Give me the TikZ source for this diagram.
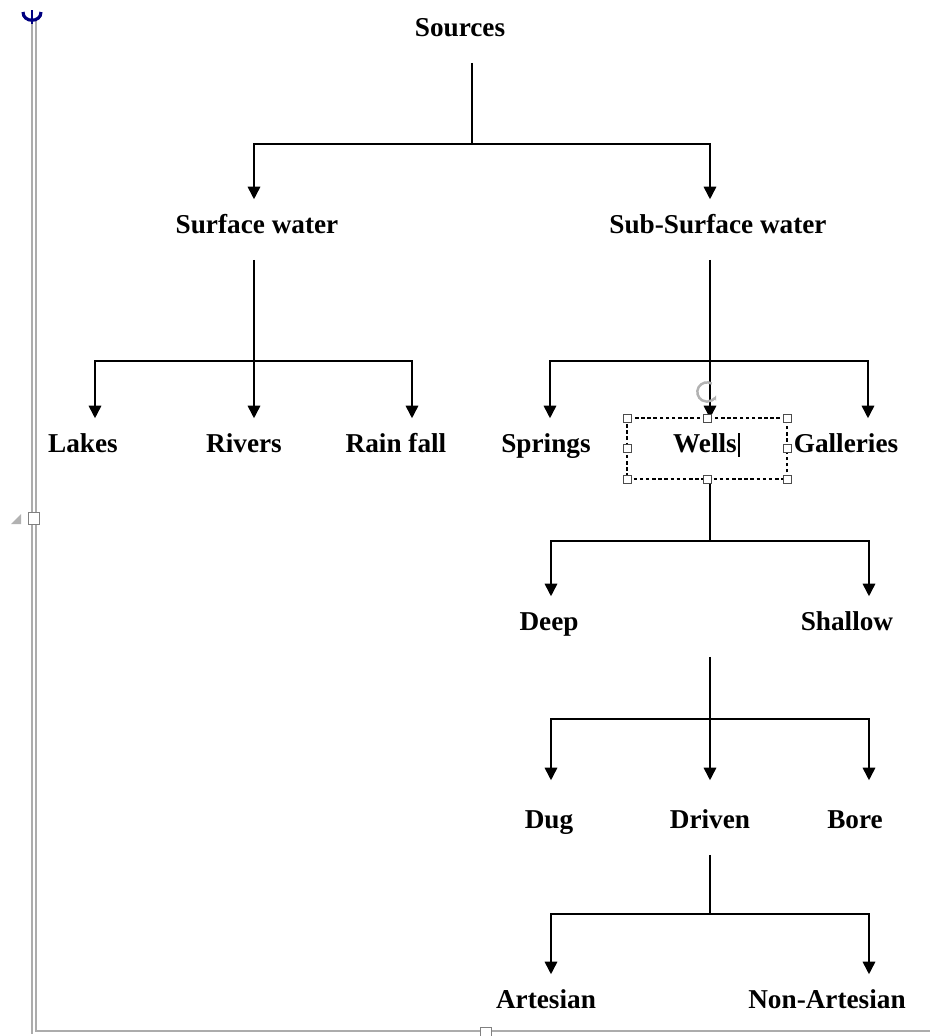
\documentclass[tikz,border=0pt]{standalone}
\usepackage{fontspec}
\setmainfont{Liberation Serif}
\usetikzlibrary{arrows.meta}
\tikzset{
  lbl/.style={font=\fontsize{15.5}{18}\selectfont\bfseries, inner sep=0pt, anchor=base, text height=0.66cm, text depth=0.52cm},
  lbltall/.style={lbl, text height=0.94cm},
  arr/.style={-{Triangle[length=0.25cm,width=0.25cm]}},
  arrs/.style={{Triangle[length=0.25cm,width=0.25cm]}-{Triangle[length=0.25cm,width=0.25cm]}},
  frame/.style={draw=gray!65, line width=0.8pt},
  handlebox/.style={draw=black!70, fill=white, line width=0.55pt}
}
\begin{document}
\begin{tikzpicture}[x=0.02cm, y=-0.02cm, line width=0.9pt]
\useasboundingbox (0,0) rectangle (930,1036);
\draw[frame] (32,20)--(32,1034); \draw[frame] (36,20)--(36,1031)--(930,1031);
\draw[handlebox, draw=gray] (28,512) rectangle (39,524);
\draw[handlebox, draw=gray] (480,1027) rectangle (491,1036);
\fill[gray!60] (11,524)--(21,524)--(21,514)--cycle;
\draw[blue!50!black, line width=1.8pt] (23,12) .. controls (23,23) and (41,23) .. (41,12);
\draw[blue!50!black, line width=1.4pt] (32,10)--(32,24);
\node[lbl] (src) at (460,36) {Sources};
\node[lbl] (surf) at (257,233) {Surface water};
\node[lbl] (sub) at (718,233) {Sub-Surface water};
\node[lbl] (lakes) at (83,452) {Lakes};
\node[lbl] (rivers) at (244,452) {Rivers};
\node[lbl] (rain) at (396,452) {Rain fall};
\node[lbl] (springs) at (546,452) {Springs};
\node[lbl] (wells) at (705,452) {Wells};
\node[lbl] (gall) at (846,452) {Galleries};
\node[lbl] (deep) at (549,630) {Deep};
\node[lbl] (shallow) at (847,630) {Shallow};
\node[lbltall] (dug) at (549,828) {Dug};
\node[lbltall] (driven) at (710,828) {Driven};
\node[lbltall] (bore) at (855,828) {Bore};
\node[lbl] (artesian) at (546,1008) {Artesian};
\node[lbl] (nonart) at (827,1008) {Non-Artesian};
\coordinate (jsrc) at (472,144); \coordinate (srcL) at (254,144); \coordinate (srcR) at (710,144);
\coordinate (jsurf) at (254,361); \coordinate (surfL) at (95,361); \coordinate (surfR) at (412,361);
\coordinate (jsub) at (710,361); \coordinate (subL) at (550,361); \coordinate (subR) at (868,361);
\coordinate (jwells) at (710,541); \coordinate (wellsL) at (551,541); \coordinate (wellsR) at (869,541);
\coordinate (jshal) at (710,719); \coordinate (shalL) at (551,719); \coordinate (shalR) at (869,719);
\coordinate (jdrv) at (710,914); \coordinate (drvL) at (551,914); \coordinate (drvR) at (869,914);
\draw (jsrc |- src.south)--(jsrc);
\draw[arrs] (srcL |- surf.north)--(srcL)--(srcR)--(srcR |- sub.north);
\draw[arr] (jsurf |- surf.south)--(jsurf |- rivers.north);
\draw[arrs] (surfL |- lakes.north)--(surfL)--(surfR)--(surfR |- rain.north);
\draw[arr] (jsub |- sub.south)--(jsub |- wells.north);
\draw[arrs] (subL |- springs.north)--(subL)--(subR)--(subR |- gall.north);
\draw (jwells |- wells.south)--(jwells);
\draw[arrs] (wellsL |- deep.north)--(wellsL)--(wellsR)--(wellsR |- shallow.north);
\draw[arr] (jshal |- shallow.south)--(jshal |- driven.north);
\draw[arrs] (shalL |- dug.north)--(shalL)--(shalR)--(shalR |- bore.north);
\draw (jdrv |- driven.south)--(jdrv);
\draw[arrs] (drvL |- artesian.north)--(drvL)--(drvR)--(drvR |- nonart.north);
\draw[line width=0.6pt, dash pattern=on 2pt off 1.5pt] (627,418) rectangle (787,479);
\foreach \x/\y in {627/418,707/418,787/418,627/448,787/448,627/479,707/479,787/479}
  \draw[handlebox] (\x,\y) ++(-4,-4) rectangle ++(8,8);
\draw[gray!60, line width=1.4pt, -{Stealth[length=3pt]}] (707,392) ++(60:5.5pt) arc (60:340:5.5pt);
\draw[line width=0.6pt] (739,433)--(739,457);
\end{tikzpicture}
\end{document}
